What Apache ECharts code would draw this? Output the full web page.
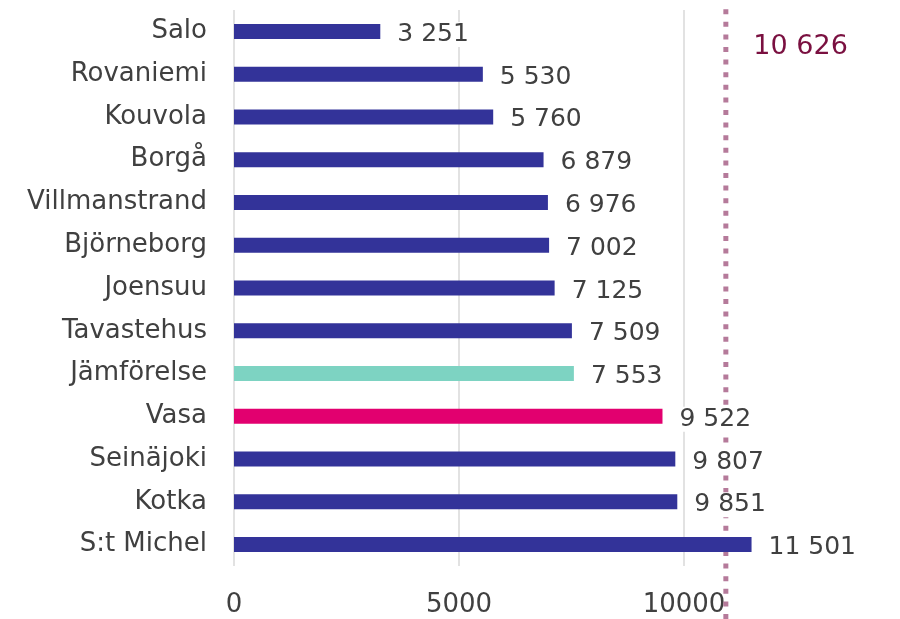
<!DOCTYPE html>
<html>
<head>
<meta charset="utf-8">
<script src="https://cdn.jsdelivr.net/npm/echarts@6/dist/echarts.min.js"></script>
<style>
  html, body { margin: 0; padding: 0; background: #fff; overflow: hidden; }
  /* plot runs past the right edge of the window, as in the reference */
  #chart { width: 909px; height: 619px; }
</style>
</head>
<body>
<div id="chart"></div>
<script>
// city names, top to bottom
var categories = ['Salo', 'Rovaniemi', 'Kouvola', 'Borgå', 'Villmanstrand', 'Björneborg',
    'Joensuu', 'Tavastehus', 'Jämförelse', 'Vasa', 'Seinäjoki', 'Kotka', 'S:t Michel'];
var values = [3251, 5530, 5760, 6879, 6976, 7002, 7125, 7509, 7553, 9522, 9807, 9851, 11501];
var barColors = ['#333399', '#333399', '#333399', '#333399', '#333399', '#333399',
    '#333399', '#333399', '#7dd3c2', '#e2006f', '#333399', '#333399', '#333399'];
var xTicks = [0, 5000, 10000, 15000];
// reference line: printed value and where it sits on the axis in the picture
var refLabel = 10626;
var refPos = 10930;

var FONT = '"DejaVu Sans", sans-serif';
var TEXT = '#404040';

function fmt(v) {
    return String(v).replace(/\B(?=(\d{3})+(?!\d))/g, ' ');
}

var chart = echarts.init(document.getElementById('chart'));

var barData = values.map(function (v, i) {
    return { value: v, itemStyle: { color: barColors[i] } };
});

chart.setOption({
    animation: false,
    grid: [
        { left: 234, right: 0, top: 10, bottom: 53 },
        { left: 234, right: 0, top: 8, bottom: 0 }
    ],
    xAxis: [
        {
            type: 'value', gridIndex: 0, min: xTicks[0], max: xTicks[xTicks.length - 1],
            interval: xTicks[1] - xTicks[0],
            axisLine: { show: false }, axisTick: { show: false },
            axisLabel: {
                color: TEXT, fontSize: 26, fontFamily: FONT, margin: 26, showMaxLabel: false,
                formatter: function (v) { return String(v); }
            },
            splitLine: { lineStyle: { color: '#d9d9d9', width: 1.5 } }
        },
        { type: 'value', gridIndex: 1, min: xTicks[0], max: xTicks[xTicks.length - 1], show: false }
    ],
    yAxis: [
        {
            type: 'category', gridIndex: 0, data: categories, inverse: true,
            axisLine: { show: false }, axisTick: { show: false },
            axisLabel: { color: TEXT, fontSize: 26, fontFamily: FONT, margin: 27 }
        },
        { type: 'value', gridIndex: 1, min: 0, max: 1, show: false }
    ],
    series: [
        {
            type: 'bar', xAxisIndex: 0, yAxisIndex: 0, z: 3,
            data: barData, barWidth: 15,
            label: {
                show: true, position: 'right', distance: 15, offset: [0, 3],
                color: TEXT, fontSize: 25, fontFamily: FONT,
                backgroundColor: '#fff', padding: [0, 2],
                formatter: function (p) { return fmt(p.value); }
            }
        },
        {
            type: 'line', xAxisIndex: 1, yAxisIndex: 1,
            symbol: 'circle', symbolSize: 1, showSymbol: true, z: 1,
            itemStyle: { color: 'rgba(0,0,0,0)' },
            lineStyle: { color: '#b57a9a', width: 5, type: [5, 7.6], cap: 'butt' },
            data: [
                [refPos, 0],
                {
                    value: [refPos, 1],
                    label: {
                        show: true, position: 'right', distance: 27, offset: [0, 39],
                        color: '#7a1040', fontSize: 27, fontFamily: FONT,
                        formatter: function () { return fmt(refLabel); }
                    }
                }
            ]
        }
    ]
});
</script>
</body>
</html>
